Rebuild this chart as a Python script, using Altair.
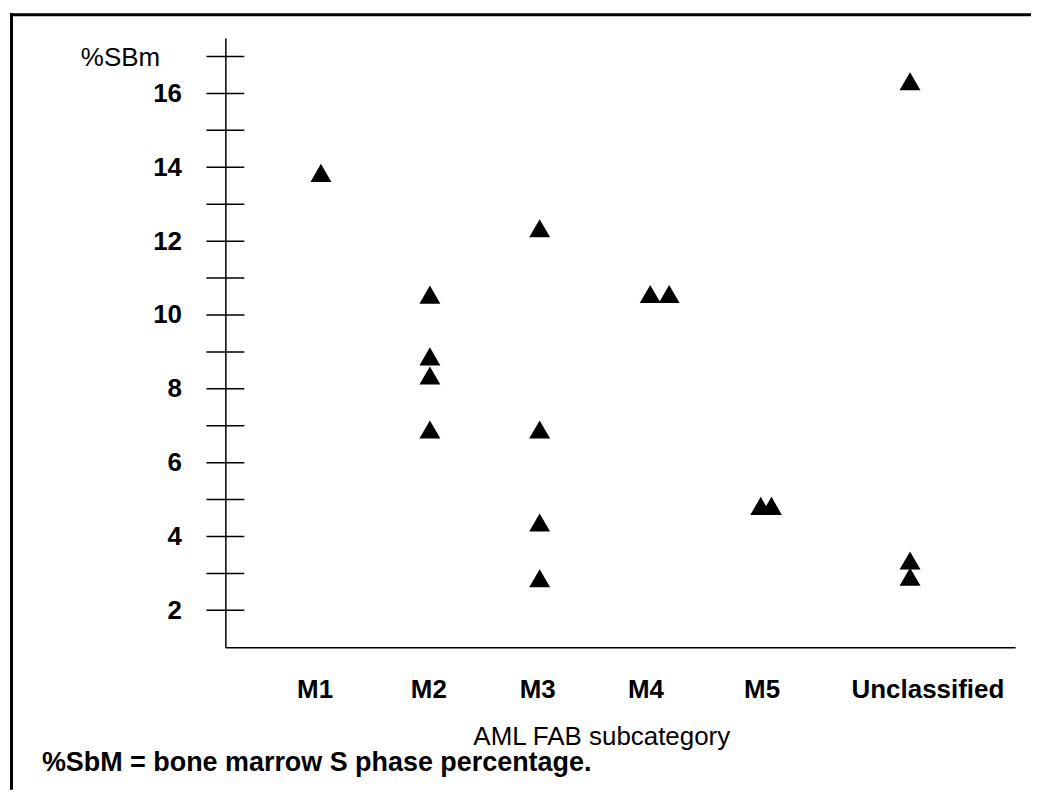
import altair as alt
import pandas as pd

# ---- data ----
categories = ["M1", "M2", "M3", "M4", "M5", "Unclassified"]
label_pos = [11.3, 25.7, 39.5, 53.2, 67.9, 88.9]   # where category labels sit on the x scale

pt_cat = ["M1",
          "M2", "M2", "M2", "M2",
          "M3", "M3", "M3", "M3",
          "M4", "M4",
          "M5", "M5",
          "Unclassified", "Unclassified", "Unclassified"]
pt_pos = [12.1,
          25.9, 25.9, 25.9, 25.9,
          39.8, 39.8, 39.8, 39.8,
          53.8, 56.2,
          67.8, 69.15,
          86.7, 86.7, 86.7]
pt_val = [13.85,
          10.55, 8.88, 8.36, 6.90,
          12.35, 6.90, 4.38, 2.87,
          10.57, 10.57,
          4.83, 4.83,
          16.33, 3.35, 2.91]

y_ticks = list(range(2, 18))
y_labels = [2, 4, 6, 8, 10, 12, 14, 16]
footnote = "%SbM = bone marrow S phase percentage."

FONT = "Liberation Sans"

points = pd.DataFrame({"cat": pt_cat, "pos": pt_pos, "val": pt_val})
ticks = pd.DataFrame({"v": y_ticks})
one = pd.DataFrame({"a": [0]})

label_expr = " : ".join(
    f"datum.value == {p} ? '{c}'" for p, c in zip(label_pos, categories)
) + " : ''"

xscale = alt.Scale(domain=[0, 100], nice=False, zero=False)
yscale = alt.Scale(domain=[1, 17.5], nice=False, zero=False)

x_axis = alt.Axis(
    values=label_pos, labelExpr=label_expr,
    domain=True, domainColor="black", domainWidth=1.5,
    ticks=False, tickSize=0, grid=False,
    labelFont=FONT, labelFontSize=26, labelFontWeight="bold", labelColor="black",
    labelBaseline="alphabetic", labelPadding=50, labelFlush=False, labelOverlap=False,
    title="AML FAB subcategory", titleFont=FONT, titleFontSize=26,
    titleFontWeight="normal", titleColor="black",
    titleX=377, titleY=98, titleAlign="center", titleBaseline="alphabetic",
)
y_axis = alt.Axis(
    values=y_labels, format="d",
    domain=True, domainColor="black", domainWidth=1.5,
    ticks=False, tickSize=0, grid=False,
    labelFont=FONT, labelFontSize=26, labelFontWeight="bold", labelColor="black",
    labelPadding=44, labelBaseline="middle",
    title="%SBm", titleFont=FONT, titleFontSize=26, titleFontWeight="normal",
    titleColor="black", titleAngle=0, titleAlign="right",
    titleBaseline="alphabetic", titleX=-66, titleY=28,
)

pts = alt.Chart(points).mark_point(
    shape="triangle-up", filled=True, color="black", size=440, opacity=1
).encode(
    x=alt.X("pos:Q", scale=xscale, axis=x_axis),
    y=alt.Y("val:Q", scale=yscale, axis=y_axis),
    tooltip=["cat:N", "val:Q"],
)

tick_rules = alt.Chart(ticks).mark_rule(color="black", strokeWidth=1.5).encode(
    y=alt.Y("v:Q", scale=yscale, axis=y_axis),
    x=alt.value(-19),
    x2=alt.value(19),
)

frame_top = alt.Chart(one).mark_rule(color="black", strokeWidth=3).encode(
    x=alt.value(-216), x2=alt.value(808), y=alt.value(-23.5)
)
frame_left = alt.Chart(one).mark_rule(color="black", strokeWidth=3).encode(
    x=alt.value(-214.5), y=alt.value(-25), y2=alt.value(754)
)

note = alt.Chart(one).mark_text(
    font=FONT, fontSize=27, fontWeight="bold", color="black",
    align="left", baseline="alphabetic"
).encode(
    x=alt.value(-184), y=alt.value(735), text=alt.value(footnote)
)

chart = alt.layer(tick_rules, pts, frame_top, frame_left, note).properties(
    width=792, height=611,
    padding={"top": 2, "left": 0, "right": 0, "bottom": 0},
    background="white",
).configure_view(stroke=None)

chart.save("out.html", embed_options={"renderer": "svg", "actions": False})
